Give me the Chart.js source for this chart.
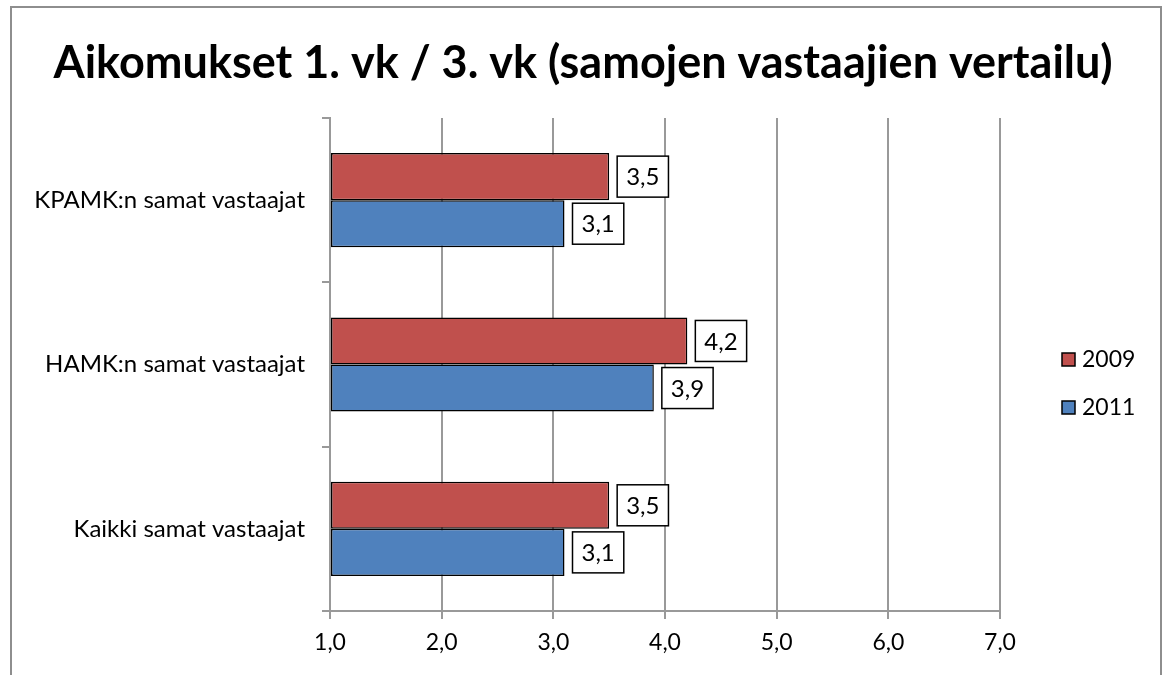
<!DOCTYPE html>
<html>
<head>
<meta charset="utf-8">
<script src="https://cdn.jsdelivr.net/npm/chart.js@4"></script>
<style>
  html, body { margin: 0; padding: 0; background: #fff; }
  #wrap { width: 1165px; height: 675px; }
</style>
</head>
<body>
<div id="wrap"><canvas id="mainChart" width="1165" height="675"></canvas></div>
<script>
const chartTitle = "Aikomukset 1. vk / 3. vk (samojen vastaajien vertailu)";
const categories = ["KPAMK:n samat vastaajat", "HAMK:n samat vastaajat", "Kaikki samat vastaajat"];
const seriesNames = ["2009", "2011"];
const values2009 = [3.5, 4.2, 3.5];
const values2011 = [3.1, 3.9, 3.1];
const seriesColors = ["#C0504D", "#4F81BD"];

const fontFamily = "Lato, 'Open Sans', sans-serif";

function fmt(v) {
  return v.toFixed(1).replace(".", ",");
}

// frame + title drawn behind the chart
const framePlugin = {
  id: "frame",
  beforeDraw(chart) {
    const ctx = chart.ctx;
    ctx.save();
    ctx.fillStyle = "#fff";
    ctx.fillRect(0, 0, chart.width, chart.height);
    ctx.strokeStyle = "#8e8e8e";
    ctx.lineWidth = 2;
    ctx.strokeRect(11, 7, 1150, 700);
    ctx.fillStyle = "#000";
    ctx.font = "bold 45px " + fontFamily;
    ctx.textAlign = "center";
    ctx.textBaseline = "middle";
    ctx.fillText(chartTitle, 583, 63);
    ctx.restore();
  }
};

// boxed value labels next to bar ends
const labelPlugin = {
  id: "boxLabels",
  afterDatasetsDraw(chart) {
    const ctx = chart.ctx;
    ctx.save();
    ctx.font = "24px " + fontFamily;
    ctx.textAlign = "center";
    ctx.textBaseline = "middle";
    chart.data.datasets.forEach((ds, di) => {
      chart.getDatasetMeta(di).data.forEach((bar, i) => {
        const txt = fmt(ds.data[i]);
        const w = ctx.measureText(txt).width + 18;
        const h = 41;
        const x = bar.x + 8;
        const y = bar.y - h / 2;
        ctx.fillStyle = "#fff";
        ctx.fillRect(x, y, w, h);
        ctx.strokeStyle = "#000";
        ctx.lineWidth = 1.5;
        ctx.strokeRect(x, y, w, h);
        ctx.fillStyle = "#000";
        ctx.fillText(txt, x + w / 2, bar.y + 1);
      });
    });
    ctx.restore();
  }
};

// legend on the right
const legendPlugin = {
  id: "sideLegend",
  afterDraw(chart) {
    const ctx = chart.ctx;
    ctx.save();
    ctx.font = "23px " + fontFamily;
    ctx.textBaseline = "middle";
    chart.data.datasets.forEach((ds, di) => {
      const cy = 360 + di * 48;
      ctx.fillStyle = ds.backgroundColor;
      ctx.fillRect(1062, cy - 7, 13, 13);
      ctx.strokeStyle = "#000";
      ctx.lineWidth = 1.5;
      ctx.strokeRect(1062, cy - 7, 13, 13);
      ctx.fillStyle = "#000";
      ctx.fillText(ds.label, 1082, cy);
    });
    ctx.restore();
  }
};

const ctx = document.getElementById("mainChart").getContext("2d");
new Chart(ctx, {
  type: "bar",
  data: {
    labels: categories,
    datasets: [
      { label: seriesNames[0], data: values2009, backgroundColor: seriesColors[0] },
      { label: seriesNames[1], data: values2011, backgroundColor: seriesColors[1] }
    ]
  },
  options: {
    indexAxis: "y",
    responsive: false,
    animation: false,
    layout: { padding: { top: 118, right: 165, left: 0, bottom: 0 } },
    datasets: {
      bar: {
        base: 1,
        borderColor: "#000",
        borderWidth: 1.5,
        borderSkipped: false,
        categoryPercentage: 0.573,
        barPercentage: 1
      }
    },
    plugins: {
      legend: { display: false },
      title: { display: false },
      tooltip: { enabled: false }
    },
    scales: {
      x: {
        min: 1,
        max: 7,
        ticks: {
          stepSize: 1,
          padding: 10,
          color: "#000",
          font: { size: 23, family: fontFamily },
          callback: v => fmt(v)
        },
        grid: { color: "#999", lineWidth: 2, tickLength: 8 },
        border: { color: "#999", width: 2 },
        afterFit: s => { s.height = 64; }
      },
      y: {
        offset: true,
        ticks: {
          padding: 17,
          color: "#000",
          font: { size: 24, family: fontFamily }
        },
        grid: { offset: true, drawOnChartArea: false, color: "#999", lineWidth: 2, tickLength: 8 },
        border: { color: "#999", width: 2 },
        afterFit: s => { s.width = 330; }
      }
    }
  },
  plugins: [framePlugin, labelPlugin, legendPlugin]
});
</script>
</body>
</html>
